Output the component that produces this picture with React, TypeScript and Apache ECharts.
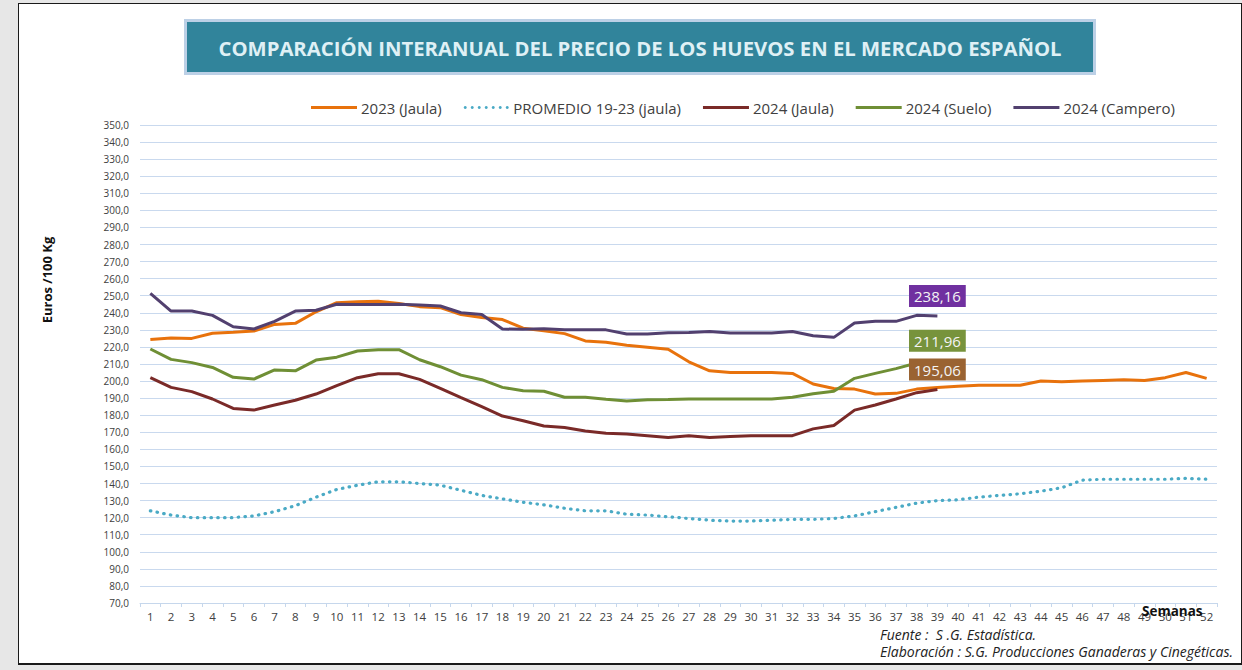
import React, { useEffect, useRef } from "react";
import * as echarts from "echarts";

const weeks = ["1","2","3","4","5","6","7","8","9","10","11","12","13","14","15","16","17","18","19","20","21","22","23","24","25","26","27","28","29","30","31","32","33","34","35","36","37","38","39","40","41","42","43","44","45","46","47","48","49","50","51","52"];

const jaula2023 = [224.4, 225.3, 225.0, 228.0, 228.6, 229.3, 233.2, 233.8, 240.6, 245.9, 246.4, 246.8, 245.5, 243.6, 243.0, 239.0, 237.3, 236.0, 231.0, 229.5, 227.8, 223.5, 222.7, 221.0, 219.8, 218.6, 211.3, 206.0, 205.0, 205.0, 205.0, 204.5, 198.3, 195.7, 195.3, 192.4, 192.8, 195.3, 196.2, 197.0, 197.5, 197.5, 197.5, 200.0, 199.6, 200.0, 200.4, 200.8, 200.4, 202.0, 205.0, 201.6];

const promedio1923 = [124.0, 121.5, 120.0, 120.0, 120.0, 121.0, 123.5, 127.0, 132.0, 136.5, 139.0, 141.0, 141.0, 140.0, 139.0, 136.0, 133.0, 131.0, 129.0, 127.5, 125.5, 124.0, 124.0, 122.0, 121.5, 120.5, 119.5, 118.5, 118.0, 118.0, 118.5, 119.0, 119.0, 119.5, 121.0, 123.5, 126.0, 128.5, 130.0, 130.5, 132.0, 133.0, 134.0, 135.5, 137.5, 142.0, 142.5, 142.5, 142.5, 142.5, 143.0, 142.5];

const jaula2024 = [202.0, 196.3, 193.8, 189.5, 184.0, 183.0, 186.0, 188.8, 192.4, 197.3, 202.0, 204.3, 204.3, 201.0, 195.7, 190.3, 185.0, 179.5, 176.8, 173.7, 172.8, 170.8, 169.5, 169.0, 168.0, 167.0, 168.0, 167.0, 167.5, 168.0, 168.0, 168.0, 172.0, 174.0, 183.0, 186.0, 189.5, 193.2, 195.06];

const suelo2024 = [218.8, 212.7, 210.8, 208.0, 202.2, 201.2, 206.5, 206.0, 212.3, 214.0, 217.6, 218.4, 218.4, 212.5, 208.4, 203.5, 200.8, 196.3, 194.3, 194.0, 190.5, 190.5, 189.3, 188.3, 189.0, 189.2, 189.5, 189.5, 189.5, 189.5, 189.5, 190.5, 192.6, 194.0, 201.6, 204.5, 207.3, 210.6, 211.96];

const campero2024 = [251.4, 241.0, 241.0, 238.5, 231.8, 230.5, 235.0, 241.0, 241.5, 245.0, 244.8, 244.8, 245.0, 244.5, 244.0, 240.0, 239.0, 230.5, 230.3, 230.7, 230.0, 230.0, 230.0, 227.6, 227.6, 228.3, 228.4, 229.0, 228.2, 228.2, 228.2, 229.0, 226.6, 225.6, 234.0, 235.0, 235.0, 238.5, 238.16];

const seriesNames = ["2023 (Jaula)", "PROMEDIO 19-23 (jaula)", "2024 (Jaula)", "2024 (Suelo)", "2024 (Campero)"];

const FONT = "'Open Sans', 'DejaVu Sans', sans-serif";

const SOLID_ICON = "path://M0,0L46,0L46,3L0,3Z";
const DOT_ICON =
  "path://M1.5,0A1.5,1.5,0,1,1,1.49,0ZM8.5,0A1.5,1.5,0,1,1,8.49,0ZM15.5,0A1.5,1.5,0,1,1,15.49,0ZM22.5,0A1.5,1.5,0,1,1,22.49,0ZM29.5,0A1.5,1.5,0,1,1,29.49,0ZM36.5,0A1.5,1.5,0,1,1,36.49,0ZM43.5,0A1.5,1.5,0,1,1,43.49,0Z";

function fmt(v: number, d: number) {
  return v.toFixed(d).replace(".", ",");
}

function withLastLabel(arr: number[], bg: string) {
  return arr.map((v, i) =>
    i === arr.length - 1
      ? {
          value: v,
          label: {
            show: true,
            position: "top",
            distance: 9,
            formatter: (p: any) => fmt(p.value, 2),
            backgroundColor: bg,
            color: "#f4f4f4",
            fontFamily: FONT,
            fontSize: 15,
            padding: [4, 5, 3, 5],
          },
        }
      : v
  );
}

export default function App() {
  const ref = useRef<HTMLDivElement>(null);

  useEffect(() => {
    if (!ref.current) return;
    const chart = echarts.init(ref.current, undefined, { renderer: "svg" });
    const lineBase = (name: string, color: string, data: any[]) => ({
      name,
      type: "line",
      data,
      symbol: "circle",
      symbolSize: 0,
      showSymbol: true,
      smooth: false,
      lineStyle: { color, width: 3 },
      itemStyle: { color },
      z: 3,
    });
    chart.setOption({
      animation: false,
      textStyle: { fontFamily: FONT },
      grid: { left: 140, right: 25, top: 125, bottom: 67, containLabel: false },
      legend: {
        top: 95,
        left: 306,
        itemWidth: 46,
        itemHeight: 3,
        itemGap: 22,
        data: [
          { name: seriesNames[0], icon: SOLID_ICON },
          { name: seriesNames[1], icon: DOT_ICON },
          { name: seriesNames[2], icon: SOLID_ICON },
          { name: seriesNames[3], icon: SOLID_ICON },
          { name: seriesNames[4], icon: SOLID_ICON },
        ],
        textStyle: { fontFamily: FONT, fontSize: 15, color: "#404040", padding: [0, 0, 0, -1] },
      },
      xAxis: {
        type: "category",
        data: weeks,
        boundaryGap: true,
        axisLine: { show: true, lineStyle: { color: "#c6d7ec", width: 1 } },
        axisTick: { show: true, interval: 0, length: 4, lineStyle: { color: "#c6d7ec" } },
        axisLabel: { interval: 0, fontSize: 11.5, color: "#404040", margin: 7, fontFamily: FONT },
        splitLine: { show: false },
      },
      yAxis: {
        type: "value",
        min: 70,
        max: 350,
        interval: 10,
        axisLine: { show: false },
        axisTick: { show: false },
        axisLabel: {
          fontSize: 10,
          color: "#404040",
          margin: 11,
          fontFamily: FONT,
          formatter: (v: number) => fmt(v, 1),
        },
        splitLine: { show: true, lineStyle: { color: "#c9d9ee", width: 1 } },
      },
      series: [
        lineBase(seriesNames[0], "#e8720c", jaula2023),
        {
          ...lineBase(seriesNames[1], "#4aaac5", promedio1923),
          lineStyle: { color: "#4aaac5", width: 3.2, type: [0.5, 6.3], cap: "round" },
        },
        lineBase(seriesNames[2], "#7a2a28", withLastLabel(jaula2024, "#9a6332")),
        lineBase(seriesNames[3], "#6f8f35", withLastLabel(suelo2024, "#77933c")),
        lineBase(seriesNames[4], "#52406f", withLastLabel(campero2024, "#7030a0")),
      ],
      graphic: [
        {
          type: "rect",
          shape: { x: 185.5, y: 20.5, width: 909, height: 53 },
          style: { fill: "#31849b", stroke: "#bcd0e6", lineWidth: 3 },
          z: 10,
        },
        {
          type: "text",
          x: 640,
          y: 48,
          style: {
            text: "COMPARACIÓN INTERANUAL DEL PRECIO DE LOS HUEVOS EN EL MERCADO ESPAÑOL",
            fill: "#dff0f5",
            font: "bold 20.3px " + FONT,
            align: "center",
            verticalAlign: "middle",
          },
          z: 11,
        },
        {
          type: "text",
          x: 47,
          y: 280,
          rotation: Math.PI / 2,
          style: {
            text: "Euros /100 Kg",
            fill: "#111",
            font: "bold 13px " + FONT,
            align: "center",
            verticalAlign: "middle",
          },
        },
        {
          type: "text",
          x: 1142,
          y: 604,
          style: { text: "Semanas", fill: "#111", font: "bold 13.5px " + FONT },
          z: 12,
        },
        {
          type: "text",
          x: 880,
          y: 627,
          style: { text: "Fuente :  S .G. Estadística.", fill: "#222", font: "italic 14px " + FONT },
        },
        {
          type: "text",
          x: 880,
          y: 644,
          style: {
            text: "Elaboración : S.G. Producciones Ganaderas y Cinegéticas.",
            fill: "#222",
            font: "italic 14px " + FONT,
          },
        },
      ],
    });
    return () => chart.dispose();
  }, []);

  return (
    <div style={{ position: "absolute", left: 0, top: 0, width: 1242, height: 670, background: "#e7e7e7", overflow: "hidden" }}>
      <div
        style={{
          position: "absolute",
          left: 18,
          top: 3,
          width: 1224,
          height: 662,
          background: "#ffffff",
          borderLeft: "1.5px solid #1a1a1a",
          borderTop: "1.5px solid #1a1a1a",
          borderBottom: "2px solid #1a1a1a",
          borderRight: "1.5px solid #1a1a1a",
          boxSizing: "border-box",
        }}
      />
      <div ref={ref} style={{ position: "absolute", left: 0, top: 0, width: 1242, height: 670 }} />
    </div>
  );
}
